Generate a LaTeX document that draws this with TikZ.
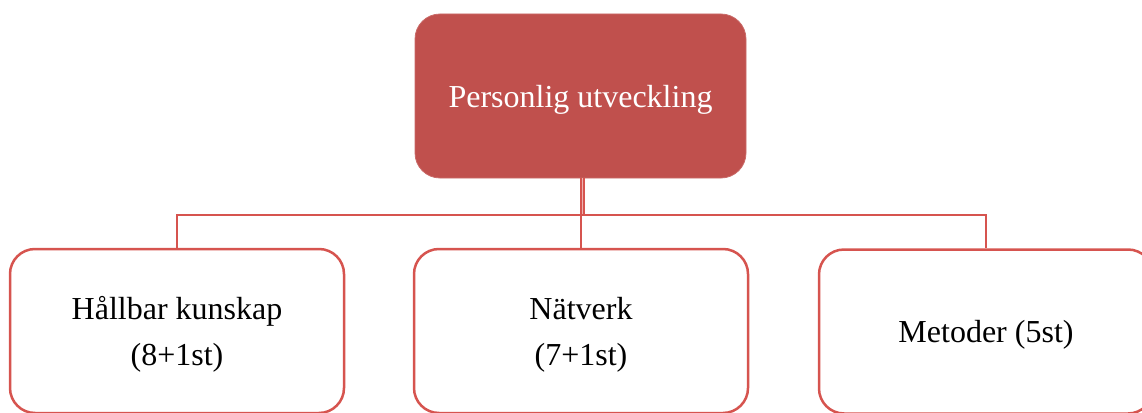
\documentclass[tikz,border=0pt]{standalone}
\usepackage{fontspec}
\setmainfont{Liberation Serif}
\definecolor{accent}{RGB}{192,80,77}
\definecolor{linkred}{RGB}{214,84,79}
\tikzset{
  headbox/.style={rectangle, rounded corners=25pt, fill=accent, draw=accent!85!white, line width=0.8pt,
    minimum width=331pt, minimum height=164pt, inner sep=0pt, align=center, text depth=-1pt,
    text=white, font=\fontsize{32}{40}\selectfont},
  childbox/.style={rectangle, rounded corners=25pt, draw=linkred, line width=2.5pt, fill=white,
    minimum width=334pt, minimum height=164pt, inner sep=0pt, align=center, text depth=-2pt,
    text=black, font=\fontsize{32}{46}\selectfont},
  link/.style={draw=linkred, line width=2.3pt},
  doublelink/.style={draw=linkred, line width=1.6pt, double=linkred!45!white, double distance=1.6pt}
}
\begin{document}
\begin{tikzpicture}[x=1pt,y=-1pt]
  \useasboundingbox (0,0) rectangle (1142,412);
  \clip (0,0) rectangle (1142,412);

  % parent box
  \node[headbox] (top) at (580.5,96) {Personlig utveckling};

  % child boxes
  \node[childbox] (left)  at (177,331)   {Hållbar kunskap\\(8+1st)};
  \node[childbox] (mid)   at (581,331)   {Nätverk\\(7+1st)};
  \node[childbox] (right) at (986,331.5) {Metoder (5st)};

  % branching point below the parent
  \coordinate (bus) at (582.5,215);

  % connectors
  \draw[doublelink] (top.south -| bus) -- (bus);
  \draw[link] (left.north) |- (bus) -| (right.north);
  \draw[link] (bus -| mid.north) -- (mid.north);
\end{tikzpicture}
\end{document}
